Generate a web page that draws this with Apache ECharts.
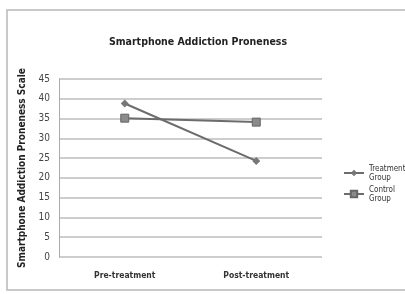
<!DOCTYPE html>
<html>
<head>
<meta charset="utf-8">
<script src="https://cdn.jsdelivr.net/npm/echarts@6/dist/echarts.min.js"></script>
<style>
  html, body { margin: 0; padding: 0; background: #fff; }
  #chart { width: 405px; height: 294px; }
</style>
</head>
<body>
<div id="chart"></div>
<script>
// categories and values
const categories = ["Pre-treatment", "Post-treatment"];
const treatmentValues = [38.8, 24.3];
const controlValues = [35.1, 34.1];
const seriesNames = ["Treatment\nGroup", "Control\nGroup"];

const chart = echarts.init(document.getElementById("chart"));
const font = "'DejaVu Sans Condensed', 'DejaVu Sans', sans-serif";

const option = {
    animation: false,
    backgroundColor: "#fff",
    graphic: [
        {
            type: "rect",
            shape: { x: 7, y: 10, width: 400, height: 280 },
            style: { fill: "none", stroke: "#b8b8b8", lineWidth: 1.5 },
        },
    ],
    title: {
        text: "Smartphone Addiction Proneness",
        left: 193,
        top: 32,
        textAlign: "center",
        textStyle: { fontFamily: font, fontSize: 10.5, fontWeight: "bold", color: "#222" },
    },
    legend: {
        orient: "vertical",
        left: 338,
        top: 159,
        itemGap: 3,
        itemWidth: 20,
        itemHeight: 8,
        textStyle: { fontFamily: font, fontSize: 8, color: "#333", lineHeight: 9 },
        data: seriesNames,
    },
    grid: { left: 59, top: 79, width: 263, height: 178 },
    xAxis: {
        type: "category",
        data: categories,
        axisLine: { show: false },
        axisTick: { show: false },
        axisLabel: { fontFamily: font, fontSize: 8.5, fontWeight: "bold", color: "#333", margin: 14 },
    },
    yAxis: {
        type: "value",
        min: 0,
        max: 45,
        interval: 5,
        name: "Smartphone Addiction Proneness Scale",
        nameLocation: "middle",
        nameGap: 32,
        nameTextStyle: { fontFamily: font, fontSize: 10, fontWeight: "bold", color: "#222" },
        axisLine: { show: true, lineStyle: { color: "#aaa" } },
        axisTick: { show: false },
        axisLabel: { fontFamily: font, fontSize: 10, color: "#444", margin: 9 },
        splitLine: { lineStyle: { color: "#bdbdbd", width: 1.5 } },
    },
    series: [
        {
            name: seriesNames[0],
            type: "line",
            data: treatmentValues,
            symbol: "diamond",
            symbolSize: 8,
            lineStyle: { color: "#6c6c6c", width: 2 },
            itemStyle: { color: "#777" },
        },
        {
            name: seriesNames[1],
            type: "line",
            data: controlValues,
            symbol: "rect",
            symbolSize: 8,
            lineStyle: { color: "#6c6c6c", width: 2 },
            itemStyle: { color: "#8a8a8a", borderColor: "#666", borderWidth: 1 },
        },
    ],
};

chart.setOption(option);
</script>
</body>
</html>
